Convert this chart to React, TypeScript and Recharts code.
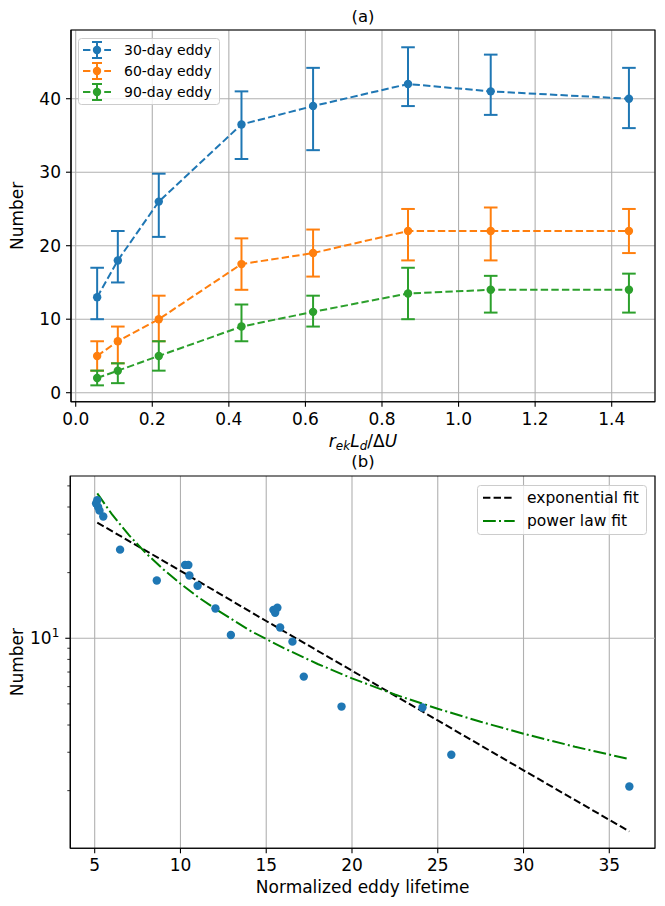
import React from "react";
import {
  ComposedChart,
  Line,
  Scatter,
  XAxis,
  YAxis,
  CartesianGrid,
  ErrorBar,
  ReferenceArea,
  ReferenceLine,
  Legend,
  Label,
} from "recharts";

const FONT = "'DejaVu Sans', sans-serif";
const BLUE = "#1f77b4";
const ORANGE = "#ff7f0e";
const GREEN = "#2ca02c";
const GRID = "#b0b0b0";

// (a) eddy counts vs r_ek L_d / dU
const ratio = [0.056, 0.11, 0.217, 0.433, 0.62, 0.868, 1.084, 1.445];
const eddy30 = [13, 18, 26, 36.5, 39, 42, 41, 40];
const eddy30Low = [10, 15, 21.2, 31.8, 33, 39, 37.8, 36];
const eddy30High = [17, 22, 29.8, 41, 44.2, 47, 46, 44.2];
const eddy60 = [5, 7, 10, 17.5, 19, 22, 22, 22];
const eddy60Low = [3, 4, 7, 14, 15.8, 18, 18, 19];
const eddy60High = [7, 9, 13.2, 21, 22.2, 25, 25.2, 25];
const eddy90 = [2, 3, 5, 9, 11, 13.5, 14, 14];
const eddy90Low = [1, 1.3, 3, 7, 9, 10, 10.9, 10.9];
const eddy90High = [3, 4, 7, 12, 13.2, 17, 15.9, 16.2];
const ratioTicks = [0, 0.2, 0.4, 0.6, 0.8, 1.0, 1.2, 1.4];
const countTicks = [0, 10, 20, 30, 40];
const ratioDomain = [-0.0123, 1.5131];
const countDomain = [-1.224, 49.35];

// (b) eddy counts vs normalized lifetime
const lifetime = [5.08, 5.15, 5.2, 5.28, 5.5, 6.48, 8.62, 10.27, 10.46, 10.52, 11.0, 12.04, 12.94, 15.42, 15.52, 15.65, 15.81, 16.53, 17.19, 19.39, 24.11, 25.79, 36.17];
const lifetimeCount = [41.5, 43, 40, 38.5, 36.2, 25.5, 18.4, 21.7, 21.7, 19.4, 17.4, 13.7, 10.35, 13.5, 13.1, 13.8, 11.2, 9.65, 6.67, 4.86, 4.81, 2.92, 2.09];
const expFitX = [5.15, 10, 15, 20, 25, 30, 36.17];
const expFitY = [33.9, 20.4, 12.0, 7.1, 4.2, 2.48, 1.3];
const powFitX = [5.15, 6, 7, 8, 9, 10, 11, 12, 14, 16, 18, 20, 22.5, 25, 27.5, 30, 33, 36.17];
const powFitY = [46.2, 37.1, 29.7, 24.5, 20.7, 17.8, 15.5, 13.7, 10.9, 9.03, 7.62, 6.55, 5.52, 4.75, 4.14, 3.65, 3.18, 2.79];
const lifetimeTicks = [5, 10, 15, 20, 25, 30, 35];
const logTicks = [2, 3, 4, 5, 6, 7, 8, 9, 10, 20, 30, 40, 50];
const lifetimeDomain = [3.578, 37.665];
const logDomain = [1.088, 55.5];

const series = [
  { key: "d30", err: "e30", name: "30-day eddy", color: BLUE, v: eddy30, lo: eddy30Low, hi: eddy30High },
  { key: "d60", err: "e60", name: "60-day eddy", color: ORANGE, v: eddy60, lo: eddy60Low, hi: eddy60High },
  { key: "d90", err: "e90", name: "90-day eddy", color: GREEN, v: eddy90, lo: eddy90Low, hi: eddy90High },
];

const panelA = ratio.map((x, i) => {
  const row: any = { x };
  series.forEach((s) => {
    row[s.key] = s.v[i];
    row[s.err] = [s.v[i] - s.lo[i], s.hi[i] - s.v[i]];
  });
  return row;
});

const points = lifetime.map((x, i) => ({ x, y: lifetimeCount[i] }));
const expFit = expFitX.map((x, i) => ({ x, y: expFitY[i] }));
const powFit = powFitX.map((x, i) => ({ x, y: powFitY[i] }));

const DASH = "7.4 3.2";
const DASHDOT = "12.8 3.2 2 3.2";

function XTick({ x, y, payload, fmt }: any) {
  return (
    <g>
      <line x1={x} x2={x} y1={y} y2={y + 5} stroke="#000" strokeWidth={1.1} />
      <text x={x} y={y + 23} textAnchor="middle" fontSize={17} fontFamily={FONT} fill="#000">
        {fmt(payload.value)}
      </text>
    </g>
  );
}

function YTick({ x, y, payload }: any) {
  return (
    <g>
      <line x1={x - 5} x2={x} y1={y} y2={y} stroke="#000" strokeWidth={1.1} />
      <text x={x - 10} y={y + 6} textAnchor="end" fontSize={17} fontFamily={FONT} fill="#000">
        {payload.value}
      </text>
    </g>
  );
}

function LogTick({ x, y, payload }: any) {
  const major = payload.value === 10;
  return (
    <g>
      <line x1={x - (major ? 5 : 3)} x2={x} y1={y} y2={y} stroke="#000" strokeWidth={major ? 1.1 : 0.8} />
      {major && (
        <text x={x - 11} y={y + 6} textAnchor="end" fontSize={17} fontFamily={FONT} fill="#000">
          10<tspan dy={-7} fontSize={12}>1</tspan>
        </text>
      )}
    </g>
  );
}

function RatioLabel({ viewBox }: any) {
  const cx = viewBox.x + viewBox.width / 2;
  const by = viewBox.y + 45;
  return (
    <text x={cx} y={by} textAnchor="middle" fontSize={17} fontFamily={FONT} fill="#000">
      <tspan fontStyle="italic">r</tspan>
      <tspan fontStyle="italic" fontSize={12} dy={3}>ek</tspan>
      <tspan fontStyle="italic" dy={-3}>L</tspan>
      <tspan fontStyle="italic" fontSize={12} dy={3}>d</tspan>
      <tspan dy={-3}>/Δ</tspan>
      <tspan fontStyle="italic">U</tspan>
    </text>
  );
}

function TextLabel({ viewBox, text }: any) {
  return (
    <text x={viewBox.x + viewBox.width / 2} y={viewBox.y + 45} textAnchor="middle" fontSize={17} fontFamily={FONT} fill="#000">
      {text}
    </text>
  );
}

function NumberLabel({ viewBox }: any) {
  const cy = viewBox.y + viewBox.height / 2;
  return (
    <text x={23} y={cy} transform={`rotate(-90 23 ${cy})`} textAnchor="middle" fontSize={17} fontFamily={FONT} fill="#000">
      Number
    </text>
  );
}

function ErrorLegend() {
  return (
    <svg width={142} height={67} style={{ display: "block", overflow: "visible" }}>
      <rect x={0.5} y={0.5} width={141} height={66} rx={3} fill="#fff" fillOpacity={0.8} stroke="#cccccc" />
      {series.map((s, i) => {
        const cy = 12 + i * 21;
        return (
          <g key={s.key}>
            <line x1={5} x2={33} y1={cy} y2={cy} stroke={s.color} strokeWidth={2} strokeDasharray={DASH} />
            <line x1={19} x2={19} y1={cy - 8} y2={cy + 8} stroke={s.color} strokeWidth={2} />
            <line x1={14} x2={24} y1={cy - 8} y2={cy - 8} stroke={s.color} strokeWidth={2} />
            <line x1={14} x2={24} y1={cy + 8} y2={cy + 8} stroke={s.color} strokeWidth={2} />
            <circle cx={19} cy={cy} r={4.2} fill={s.color} />
            <text x={46} y={cy + 5} fontSize={14} fontFamily={FONT} fill="#000">
              {s.name}
            </text>
          </g>
        );
      })}
    </svg>
  );
}

function FitLegend() {
  return (
    <svg width={170} height={50} style={{ display: "block", overflow: "visible" }}>
      <rect x={0.5} y={0.5} width={169} height={49} rx={3} fill="#fff" fillOpacity={0.8} stroke="#cccccc" />
      <line x1={6} x2={37.7} y1={12.7} y2={12.7} stroke="#000" strokeWidth={2} strokeDasharray={DASH} />
      <text x={50} y={18} fontSize={15.5} fontFamily={FONT} fill="#000">exponential fit</text>
      <line x1={6} x2={37.7} y1={36} y2={36} stroke="#008000" strokeWidth={2} strokeDasharray={DASHDOT} />
      <text x={50} y={41.3} fontSize={15.5} fontFamily={FONT} fill="#000">power law fit</text>
    </svg>
  );
}

const dotShape = (p: any) => <circle cx={p.cx} cy={p.cy} r={4.2} fill={BLUE} />;

export default function App() {
  return (
    <div style={{ position: "absolute", left: 0, top: 0, width: 665, height: 906, background: "#fff", fontFamily: FONT }}>
      <div style={{ position: "absolute", left: 313, top: 7, width: 100, textAlign: "center", fontSize: 16.5, lineHeight: "20px" }}>(a)</div>
      <div style={{ position: "absolute", left: 313, top: 452, width: 100, textAlign: "center", fontSize: 16.5, lineHeight: "20px" }}>(b)</div>

      <div style={{ position: "absolute", left: 0, top: 0 }}>
        <ComposedChart width={665} height={452} data={panelA} margin={{ top: 30, right: 10, bottom: 0, left: 0 }}>
          <CartesianGrid stroke={GRID} strokeWidth={1.1} />
          <XAxis
            dataKey="x"
            type="number"
            domain={ratioDomain}
            allowDataOverflow
            ticks={ratioTicks}
            interval={0}
            height={50.3}
            tickSize={0}
            tickMargin={0}
            tickLine={false}
            axisLine={{ stroke: "#000", strokeWidth: 1.1 }}
            tick={<XTick fmt={(v: number) => v.toFixed(1)} />}
          >
            <Label content={(p: any) => <RatioLabel viewBox={p.viewBox} />} />
          </XAxis>
          <YAxis
            type="number"
            domain={countDomain}
            allowDataOverflow
            ticks={countTicks}
            interval={0}
            width={71}
            tickSize={0}
            tickMargin={0}
            tickLine={false}
            axisLine={{ stroke: "#000", strokeWidth: 1.1 }}
            tick={<YTick />}
          >
            <Label content={(p: any) => <NumberLabel viewBox={p.viewBox} />} />
          </YAxis>
          <ReferenceArea
            x1={ratioDomain[0]}
            x2={ratioDomain[1]}
            y1={countDomain[0]}
            y2={countDomain[1]}
            fill="none"
            fillOpacity={0}
            stroke="#000"
            strokeWidth={1.1}
            ifOverflow="visible"
          />
          {series.map((s) => (
            <Line
              key={s.key}
              dataKey={s.key}
              type="linear"
              stroke={s.color}
              strokeWidth={2}
              strokeDasharray={DASH}
              dot={{ r: 4.2, fill: s.color, stroke: s.color, strokeWidth: 0 }}
              activeDot={false}
              isAnimationActive={false}
            >
              <ErrorBar dataKey={s.err} width={6.8} stroke={s.color} strokeWidth={2} direction="y" isAnimationActive={false} />
            </Line>
          ))}
          <Legend
            layout="vertical"
            align="center"
            verticalAlign="middle"
            wrapperStyle={{ left: 77.7, top: 37.7, width: 142, height: 67 }}
            content={() => <ErrorLegend />}
          />
        </ComposedChart>
      </div>

      <div style={{ position: "absolute", left: 0, top: 452 }}>
        <ComposedChart width={665} height={454} margin={{ top: 24, right: 10, bottom: 0, left: 0 }}>
          <CartesianGrid stroke={GRID} strokeWidth={1.1} horizontal={false} />
          <XAxis
            dataKey="x"
            type="number"
            domain={lifetimeDomain}
            allowDataOverflow
            ticks={lifetimeTicks}
            interval={0}
            height={57.7}
            tickSize={0}
            tickMargin={0}
            tickLine={false}
            axisLine={{ stroke: "#000", strokeWidth: 1.1 }}
            tick={<XTick fmt={(v: number) => String(v)} />}
          >
            <Label content={(p: any) => <TextLabel viewBox={p.viewBox} text="Normalized eddy lifetime" />} />
          </XAxis>
          <YAxis
            type="number"
            scale="log"
            domain={logDomain}
            allowDataOverflow
            ticks={logTicks}
            interval={0}
            width={70.3}
            tickSize={0}
            tickMargin={0}
            tickLine={false}
            axisLine={{ stroke: "#000", strokeWidth: 1.1 }}
            tick={<LogTick />}
          >
            <Label content={(p: any) => <NumberLabel viewBox={p.viewBox} />} />
          </YAxis>
          <ReferenceLine y={10} stroke={GRID} strokeWidth={1.1} />
          <ReferenceArea
            x1={lifetimeDomain[0]}
            x2={lifetimeDomain[1]}
            y1={logDomain[0]}
            y2={logDomain[1]}
            fill="none"
            fillOpacity={0}
            stroke="#000"
            strokeWidth={1.1}
            ifOverflow="visible"
          />
          <Scatter data={points} dataKey="y" fill={BLUE} shape={dotShape} isAnimationActive={false} />
          <Line data={expFit} dataKey="y" type="linear" stroke="#000" strokeWidth={2} strokeDasharray={DASH} dot={false} activeDot={false} isAnimationActive={false} />
          <Line data={powFit} dataKey="y" type="linear" stroke="#008000" strokeWidth={2} strokeDasharray={DASHDOT} dot={false} activeDot={false} isAnimationActive={false} />
          <Legend
            layout="vertical"
            align="center"
            verticalAlign="middle"
            wrapperStyle={{ left: 477.3, top: 33, width: 170, height: 50 }}
            content={() => <FitLegend />}
          />
        </ComposedChart>
      </div>
    </div>
  );
}
